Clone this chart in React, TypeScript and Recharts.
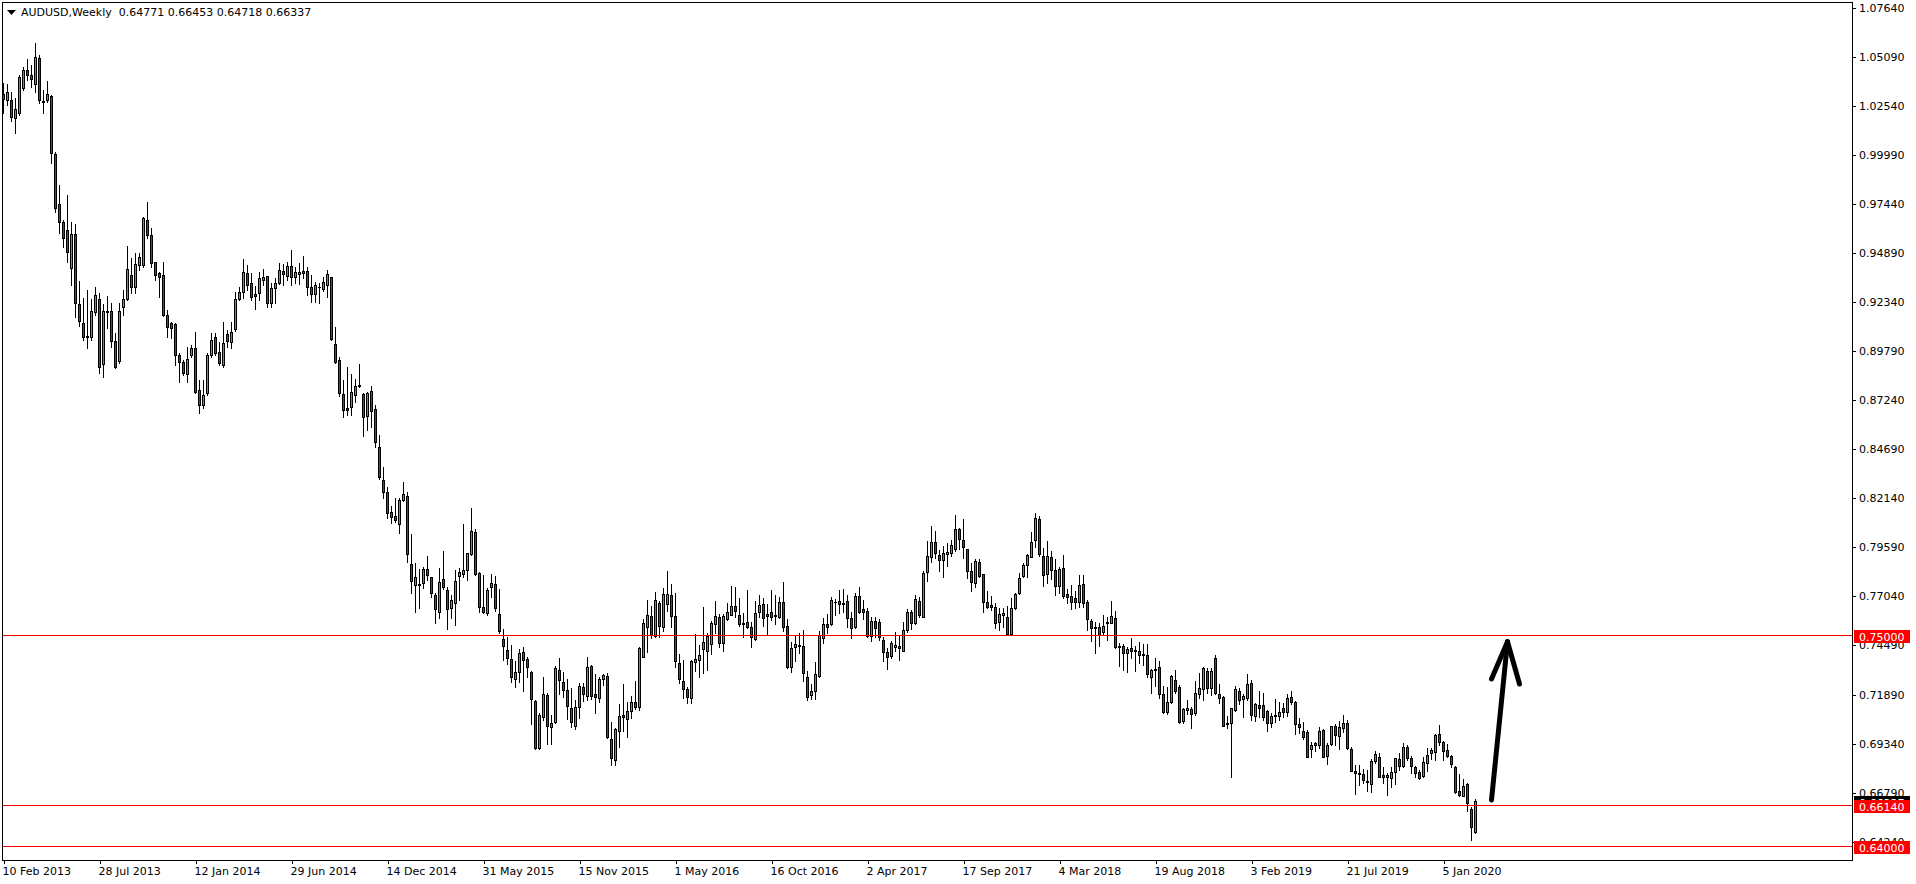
import React from 'react';
import { ComposedChart, Bar, XAxis, YAxis, ReferenceLine } from 'recharts';

const symbol = 'AUDUSD,Weekly';

// weekly candles, first one = week of 10 Feb 2013
const opens = [
  1.0315, 1.0285, 1.0285, 1.0190, 1.0216, 1.0349, 1.0441, 1.0415, 1.0368, 1.0502,
  1.0280, 1.0285, 1.0306, 1.0004, 0.9744, 0.9648, 0.9608, 0.9409, 0.9587, 0.9221,
  0.9126, 0.9057, 0.9053, 0.9180, 0.9249, 0.8911, 0.9187, 0.9187, 0.9031, 0.8928,
  0.9206, 0.9249, 0.9374, 0.9310, 0.9426, 0.9426, 0.9660, 0.9582, 0.9444, 0.9386,
  0.9374, 0.9166, 0.9126, 0.9119, 0.8958, 0.8919, 0.8857, 0.8956, 0.8994, 0.8775,
  0.8697, 0.8758, 0.8958, 0.9053, 0.8975, 0.8906, 0.9067, 0.9027, 0.9091, 0.9249,
  0.9284, 0.9386, 0.9334, 0.9273, 0.9279, 0.9350, 0.9367, 0.9230, 0.9305, 0.9331,
  0.9395, 0.9371, 0.9421, 0.9362, 0.9377, 0.9393, 0.9393, 0.9310, 0.9273, 0.9313,
  0.9301, 0.9322, 0.9364, 0.9013, 0.8930, 0.8753, 0.8680, 0.8685, 0.8751, 0.8796,
  0.8755, 0.8642, 0.8768, 0.8675, 0.8479, 0.8307, 0.8243, 0.8139, 0.8120, 0.8076,
  0.8204, 0.8222, 0.7870, 0.7759, 0.7765, 0.7769, 0.7842, 0.7800, 0.7708, 0.7618,
  0.7790, 0.7734, 0.7639, 0.7665, 0.7809, 0.7816, 0.7838, 0.7920, 0.8034, 0.7821,
  0.7644, 0.7616, 0.7748, 0.7765, 0.7608, 0.7479, 0.7422, 0.7375, 0.7269, 0.7306,
  0.7410, 0.7375, 0.7307, 0.7157, 0.6914, 0.7075, 0.7186, 0.7023, 0.7049, 0.7318,
  0.7254, 0.7212, 0.7118, 0.7028, 0.7124, 0.7228, 0.7184, 0.7339, 0.7191, 0.7170,
  0.7273, 0.7285, 0.6959, 0.6848, 0.6999, 0.7082, 0.7065, 0.7104, 0.7150, 0.7124,
  0.7387, 0.7543, 0.7599, 0.7497, 0.7665, 0.7543, 0.7660, 0.7707, 0.7599, 0.7353,
  0.7261, 0.7219, 0.7174, 0.7361, 0.7372, 0.7429, 0.7419, 0.7451, 0.7559, 0.7594,
  0.7457, 0.7585, 0.7606, 0.7653, 0.7602, 0.7557, 0.7566, 0.7542, 0.7477, 0.7618,
  0.7660, 0.7608, 0.7618, 0.7603, 0.7592, 0.7670, 0.7547, 0.7332, 0.7436, 0.7448,
  0.7443, 0.7283, 0.7188, 0.7207, 0.7288, 0.7483, 0.7555, 0.7555, 0.7671, 0.7677,
  0.7666, 0.7677, 0.7589, 0.7543, 0.7703, 0.7635, 0.7625, 0.7495, 0.7573, 0.7566,
  0.7474, 0.7412, 0.7391, 0.7439, 0.7443, 0.7419, 0.7526, 0.7618, 0.7561, 0.7675,
  0.7596, 0.7826, 0.7904, 0.7984, 0.7915, 0.7889, 0.7923, 0.7925, 0.7946, 0.8052,
  0.7993, 0.7946, 0.7833, 0.7769, 0.7880, 0.7816, 0.7672, 0.7656, 0.7644, 0.7566,
  0.7606, 0.7594, 0.7505, 0.7642, 0.7720, 0.7809, 0.7863, 0.7904, 0.7995, 0.8102,
  0.7910, 0.7816, 0.7904, 0.7837, 0.7757, 0.7847, 0.7712, 0.7701, 0.7691, 0.7674,
  0.7764, 0.7670, 0.7573, 0.7543, 0.7542, 0.7517, 0.7561, 0.7564, 0.7589, 0.7439,
  0.7443, 0.7405, 0.7432, 0.7422, 0.7417, 0.7403, 0.7398, 0.7280, 0.7316, 0.7334,
  0.7191, 0.7101, 0.7153, 0.7266, 0.7229, 0.7054, 0.7111, 0.7113, 0.7092, 0.7191,
  0.7217, 0.7313, 0.7226, 0.7379, 0.7191, 0.7177, 0.7042, 0.7040, 0.7110, 0.7209,
  0.7165, 0.7174, 0.7249, 0.7080, 0.7136, 0.7136, 0.7105, 0.7040, 0.7084, 0.7080,
  0.7118, 0.7101, 0.7177, 0.7153, 0.7035, 0.6999, 0.6993, 0.6905, 0.6929, 0.6929,
  0.7006, 0.6870, 0.6931, 0.7026, 0.6974, 0.7014, 0.7040, 0.6907, 0.6794, 0.6783,
  0.6775, 0.6742, 0.6723, 0.6842, 0.6863, 0.6771, 0.6759, 0.6754, 0.6789, 0.6853,
  0.6820, 0.6915, 0.6862, 0.6811, 0.6789, 0.6768, 0.6832, 0.6884, 0.6893, 0.6983,
  0.6941, 0.6901, 0.6870, 0.6815, 0.6688, 0.6664, 0.6724, 0.6593, 0.64771,
];

const highs = [
  1.0375, 1.0368, 1.0328, 1.0297, 1.0415, 1.0459, 1.0497, 1.0467, 1.0584, 1.0519,
  1.0337, 1.0384, 1.0311, 1.0016, 0.9843, 0.9660, 0.9791, 0.9652, 0.9638, 0.9343,
  0.9253, 0.9296, 0.9247, 0.9313, 0.9279, 0.9223, 0.9265, 0.9227, 0.9070, 0.9227,
  0.9296, 0.9525, 0.9461, 0.9487, 0.9487, 0.9678, 0.9756, 0.9617, 0.9444, 0.9391,
  0.9444, 0.9192, 0.9131, 0.9122, 0.8966, 0.8932, 0.9001, 0.9010, 0.9079, 0.8827,
  0.8827, 0.8966, 0.9070, 0.9070, 0.9027, 0.9131, 0.9088, 0.9131, 0.9287, 0.9313,
  0.9456, 0.9426, 0.9383, 0.9317, 0.9391, 0.9403, 0.9369, 0.9331, 0.9357, 0.9435,
  0.9430, 0.9443, 0.9504, 0.9417, 0.9435, 0.9473, 0.9417, 0.9374, 0.9339, 0.9334,
  0.9365, 0.9400, 0.9365, 0.9105, 0.8945, 0.8827, 0.8897, 0.8859, 0.8831, 0.8911,
  0.8758, 0.8767, 0.8796, 0.8697, 0.8541, 0.8376, 0.8272, 0.8172, 0.8213, 0.8215,
  0.8295, 0.8246, 0.8024, 0.7873, 0.7842, 0.7852, 0.7911, 0.7804, 0.7720, 0.7847,
  0.7937, 0.7752, 0.7708, 0.7838, 0.7847, 0.8078, 0.7929, 0.8163, 0.8050, 0.7830,
  0.7813, 0.7743, 0.7818, 0.7805, 0.7740, 0.7530, 0.7488, 0.7448, 0.7365, 0.7427,
  0.7439, 0.7387, 0.7313, 0.7162, 0.7096, 0.7280, 0.7196, 0.7084, 0.7340, 0.7379,
  0.7309, 0.7269, 0.7222, 0.7162, 0.7248, 0.7248, 0.7384, 0.7344, 0.7295, 0.7283,
  0.7297, 0.7301, 0.7045, 0.7018, 0.7141, 0.7243, 0.7150, 0.7184, 0.7261, 0.7439,
  0.7582, 0.7682, 0.7651, 0.7726, 0.7677, 0.7743, 0.7833, 0.7766, 0.7717, 0.7399,
  0.7370, 0.7231, 0.7370, 0.7505, 0.7448, 0.7648, 0.7509, 0.7573, 0.7677, 0.7609,
  0.7608, 0.7665, 0.7755, 0.7752, 0.7694, 0.7613, 0.7734, 0.7566, 0.7677, 0.7708,
  0.7694, 0.7661, 0.7734, 0.7707, 0.7700, 0.7776, 0.7583, 0.7465, 0.7500, 0.7509,
  0.7526, 0.7313, 0.7245, 0.7359, 0.7521, 0.7590, 0.7609, 0.7700, 0.7687, 0.7734,
  0.7739, 0.7708, 0.7621, 0.7717, 0.7750, 0.7682, 0.7639, 0.7594, 0.7592, 0.7582,
  0.7491, 0.7431, 0.7471, 0.7514, 0.7497, 0.7569, 0.7635, 0.7630, 0.7708, 0.7696,
  0.7835, 0.7989, 0.8067, 0.8041, 0.7942, 0.7963, 0.7977, 0.7995, 0.8125, 0.8059,
  0.8104, 0.7946, 0.7873, 0.7894, 0.7894, 0.7819, 0.7729, 0.7703, 0.7665, 0.7639,
  0.7642, 0.7653, 0.7694, 0.7717, 0.7821, 0.7873, 0.7922, 0.8038, 0.8137, 0.8119,
  0.7951, 0.7989, 0.7937, 0.7896, 0.7856, 0.7917, 0.7739, 0.7759, 0.7729, 0.7812,
  0.7812, 0.7682, 0.7582, 0.7569, 0.7564, 0.7604, 0.7592, 0.7677, 0.7625, 0.7457,
  0.7453, 0.7439, 0.7483, 0.7444, 0.7462, 0.7451, 0.7453, 0.7323, 0.7379, 0.7365,
  0.7234, 0.7231, 0.7292, 0.7318, 0.7238, 0.7118, 0.7162, 0.7127, 0.7261, 0.7304,
  0.7335, 0.7327, 0.7327, 0.7396, 0.7245, 0.7182, 0.7078, 0.7122, 0.7235, 0.7226,
  0.7191, 0.7297, 0.7266, 0.7144, 0.7209, 0.7200, 0.7110, 0.7092, 0.7165, 0.7150,
  0.7148, 0.7193, 0.7209, 0.7157, 0.7066, 0.7045, 0.7006, 0.6941, 0.6941, 0.7019,
  0.7009, 0.6940, 0.7026, 0.7035, 0.7052, 0.7084, 0.7058, 0.6915, 0.6823, 0.6822,
  0.6803, 0.6797, 0.6853, 0.6896, 0.6884, 0.6811, 0.6780, 0.6815, 0.6862, 0.6884,
  0.6936, 0.6928, 0.6872, 0.6820, 0.6797, 0.6867, 0.6914, 0.6910, 0.6985, 0.7032,
  0.6948, 0.6931, 0.6875, 0.6818, 0.6775, 0.6749, 0.6731, 0.6606, 0.66453,
];

const lows = [
  1.0219, 1.0259, 1.0178, 1.0112, 1.0207, 1.0337, 1.0389, 1.0351, 1.0328, 1.0271,
  1.0216, 1.0273, 0.9955, 0.9704, 0.9591, 0.9522, 0.9444, 0.9322, 0.9157, 0.9109,
  0.9036, 0.8992, 0.9036, 0.9166, 0.8866, 0.8845, 0.9096, 0.8998, 0.8888, 0.8914,
  0.9166, 0.9244, 0.9279, 0.9279, 0.9400, 0.9417, 0.9565, 0.9417, 0.9348, 0.9261,
  0.9161, 0.9053, 0.9044, 0.8906, 0.8819, 0.8854, 0.8819, 0.8949, 0.8762, 0.8657,
  0.8680, 0.8749, 0.8949, 0.8958, 0.8906, 0.8897, 0.9001, 0.8992, 0.9084, 0.9244,
  0.9253, 0.9296, 0.9244, 0.9199, 0.9244, 0.9322, 0.9206, 0.9206, 0.9227, 0.9327,
  0.9322, 0.9348, 0.9322, 0.9331, 0.9327, 0.9357, 0.9270, 0.9235, 0.9235, 0.9230,
  0.9292, 0.9258, 0.9036, 0.8918, 0.8744, 0.8637, 0.8644, 0.8647, 0.8715, 0.8793,
  0.8538, 0.8567, 0.8584, 0.8477, 0.8310, 0.8211, 0.8107, 0.8085, 0.8090, 0.8029,
  0.8199, 0.7878, 0.7717, 0.7621, 0.7642, 0.7743, 0.7786, 0.7700, 0.7561, 0.7590,
  0.7738, 0.7530, 0.7587, 0.7552, 0.7682, 0.7804, 0.7786, 0.7917, 0.7812, 0.7621,
  0.7616, 0.7604, 0.7700, 0.7625, 0.7509, 0.7370, 0.7347, 0.7257, 0.7231, 0.7257,
  0.7210, 0.7283, 0.7037, 0.6908, 0.6908, 0.7058, 0.6933, 0.6933, 0.7040, 0.7193,
  0.7179, 0.7063, 0.7023, 0.7011, 0.7066, 0.7158, 0.7162, 0.7167, 0.7096, 0.7153,
  0.7240, 0.6962, 0.6823, 0.6823, 0.6919, 0.7000, 0.6971, 0.7066, 0.7113, 0.7110,
  0.7387, 0.7413, 0.7486, 0.7491, 0.7488, 0.7521, 0.7627, 0.7543, 0.7335, 0.7252,
  0.7174, 0.7144, 0.7148, 0.7313, 0.7280, 0.7304, 0.7318, 0.7401, 0.7509, 0.7439,
  0.7417, 0.7578, 0.7602, 0.7595, 0.7549, 0.7488, 0.7535, 0.7439, 0.7474, 0.7592,
  0.7549, 0.7500, 0.7578, 0.7557, 0.7587, 0.7523, 0.7327, 0.7309, 0.7366, 0.7408,
  0.7262, 0.7162, 0.7165, 0.7165, 0.7283, 0.7457, 0.7509, 0.7552, 0.7602, 0.7613,
  0.7621, 0.7543, 0.7486, 0.7535, 0.7613, 0.7582, 0.7491, 0.7471, 0.7491, 0.7474,
  0.7366, 0.7325, 0.7382, 0.7419, 0.7370, 0.7419, 0.7517, 0.7533, 0.7557, 0.7596,
  0.7592, 0.7783, 0.7878, 0.7899, 0.7835, 0.7804, 0.7861, 0.7913, 0.7939, 0.7946,
  0.7903, 0.7798, 0.7729, 0.7748, 0.7804, 0.7621, 0.7639, 0.7630, 0.7535, 0.7526,
  0.7543, 0.7498, 0.7500, 0.7634, 0.7714, 0.7804, 0.7804, 0.7904, 0.7956, 0.7913,
  0.7755, 0.7769, 0.7790, 0.7708, 0.7717, 0.7691, 0.7668, 0.7637, 0.7639, 0.7648,
  0.7648, 0.7526, 0.7471, 0.7408, 0.7443, 0.7503, 0.7474, 0.7561, 0.7434, 0.7340,
  0.7318, 0.7309, 0.7379, 0.7314, 0.7353, 0.7344, 0.7280, 0.7200, 0.7236, 0.7174,
  0.7096, 0.7087, 0.7148, 0.7196, 0.7044, 0.7044, 0.7087, 0.7018, 0.7084, 0.7170,
  0.7162, 0.7200, 0.7188, 0.7193, 0.7148, 0.7026, 0.7014, 0.6759, 0.7105, 0.7139,
  0.7075, 0.7162, 0.7058, 0.7054, 0.7072, 0.7058, 0.7002, 0.7023, 0.7049, 0.7058,
  0.7075, 0.7079, 0.7141, 0.6985, 0.6988, 0.6959, 0.6863, 0.6863, 0.6898, 0.6910,
  0.6863, 0.6829, 0.6928, 0.6928, 0.6908, 0.6997, 0.6905, 0.6792, 0.6672, 0.6719,
  0.6731, 0.6690, 0.6685, 0.6836, 0.6759, 0.6731, 0.6667, 0.6711, 0.6723, 0.6797,
  0.6815, 0.6849, 0.6784, 0.6763, 0.6749, 0.6763, 0.6794, 0.6853, 0.6849, 0.6928,
  0.6849, 0.6863, 0.6815, 0.6679, 0.6662, 0.6662, 0.6586, 0.6433, 0.64718,
];

const closes = [
  1.0290, 1.0325, 1.0195, 1.0238, 1.0403, 1.0441, 1.0417, 1.0393, 1.0507, 1.0285,
  1.0273, 1.0315, 1.0007, 0.9721, 0.9648, 0.9565, 0.9496, 0.9587, 0.9230, 0.9136,
  0.9053, 0.9050, 0.9187, 0.9270, 0.8893, 0.9187, 0.9180, 0.9031, 0.8897, 0.9187,
  0.9249, 0.9404, 0.9310, 0.9431, 0.9466, 0.9673, 0.9582, 0.9435, 0.9374, 0.9365,
  0.9166, 0.9105, 0.9096, 0.8958, 0.8919, 0.8862, 0.8935, 0.8994, 0.8767, 0.8697,
  0.8749, 0.8958, 0.9036, 0.8966, 0.8914, 0.9018, 0.9032, 0.9079, 0.9247, 0.9284,
  0.9391, 0.9322, 0.9261, 0.9266, 0.9357, 0.9364, 0.9227, 0.9305, 0.9331, 0.9398,
  0.9381, 0.9421, 0.9365, 0.9388, 0.9390, 0.9386, 0.9310, 0.9273, 0.9322, 0.9310,
  0.9336, 0.9377, 0.9039, 0.8923, 0.8762, 0.8670, 0.8670, 0.8763, 0.8796, 0.8801,
  0.8633, 0.8760, 0.8664, 0.8506, 0.8324, 0.8246, 0.8137, 0.8116, 0.8097, 0.8203,
  0.8232, 0.7920, 0.7783, 0.7800, 0.7762, 0.7842, 0.7814, 0.7717, 0.7634, 0.7774,
  0.7748, 0.7634, 0.7682, 0.7781, 0.7828, 0.7838, 0.7925, 0.8041, 0.7816, 0.7644,
  0.7621, 0.7734, 0.7769, 0.7640, 0.7521, 0.7445, 0.7382, 0.7283, 0.7306, 0.7405,
  0.7370, 0.7332, 0.7169, 0.6914, 0.7082, 0.7191, 0.7028, 0.7040, 0.7327, 0.7266,
  0.7214, 0.7132, 0.7049, 0.7124, 0.7235, 0.7191, 0.7335, 0.7184, 0.7179, 0.7269,
  0.7290, 0.6971, 0.6858, 0.7009, 0.7077, 0.7071, 0.7104, 0.7150, 0.7127, 0.7431,
  0.7561, 0.7602, 0.7500, 0.7681, 0.7549, 0.7712, 0.7712, 0.7601, 0.7366, 0.7269,
  0.7219, 0.7179, 0.7366, 0.7375, 0.7394, 0.7462, 0.7497, 0.7561, 0.7599, 0.7460,
  0.7599, 0.7618, 0.7651, 0.7623, 0.7557, 0.7565, 0.7543, 0.7488, 0.7613, 0.7654,
  0.7587, 0.7601, 0.7596, 0.7598, 0.7670, 0.7543, 0.7335, 0.7431, 0.7452, 0.7443,
  0.7301, 0.7176, 0.7210, 0.7295, 0.7498, 0.7555, 0.7543, 0.7682, 0.7672, 0.7663,
  0.7663, 0.7590, 0.7538, 0.7703, 0.7621, 0.7621, 0.7497, 0.7573, 0.7538, 0.7488,
  0.7412, 0.7384, 0.7457, 0.7448, 0.7434, 0.7524, 0.7618, 0.7564, 0.7687, 0.7602,
  0.7821, 0.7910, 0.7984, 0.7925, 0.7889, 0.7925, 0.7932, 0.7967, 0.8050, 0.7998,
  0.7956, 0.7833, 0.7774, 0.7885, 0.7809, 0.7674, 0.7648, 0.7648, 0.7561, 0.7608,
  0.7616, 0.7505, 0.7639, 0.7712, 0.7795, 0.7863, 0.7917, 0.7982, 0.8107, 0.7920,
  0.7811, 0.7910, 0.7837, 0.7757, 0.7842, 0.7705, 0.7696, 0.7674, 0.7670, 0.7759,
  0.7665, 0.7582, 0.7538, 0.7538, 0.7500, 0.7547, 0.7568, 0.7599, 0.7439, 0.7445,
  0.7405, 0.7427, 0.7419, 0.7417, 0.7398, 0.7394, 0.7295, 0.7318, 0.7323, 0.7191,
  0.7101, 0.7150, 0.7287, 0.7210, 0.7049, 0.7113, 0.7118, 0.7087, 0.7196, 0.7222,
  0.7327, 0.7226, 0.7313, 0.7196, 0.7174, 0.7028, 0.7035, 0.7118, 0.7217, 0.7162,
  0.7183, 0.7243, 0.7084, 0.7139, 0.7122, 0.7075, 0.7040, 0.7080, 0.7077, 0.7098,
  0.7101, 0.7170, 0.7150, 0.7035, 0.7019, 0.6971, 0.6867, 0.6928, 0.6938, 0.7000,
  0.6867, 0.6928, 0.7026, 0.6980, 0.7023, 0.7040, 0.6910, 0.6794, 0.6780, 0.6775,
  0.6745, 0.6737, 0.6846, 0.6879, 0.6763, 0.6763, 0.6771, 0.6789, 0.6858, 0.6820,
  0.6915, 0.6858, 0.6820, 0.6784, 0.6754, 0.6841, 0.6875, 0.6901, 0.6980, 0.6945,
  0.6898, 0.6870, 0.6827, 0.6685, 0.6669, 0.6714, 0.6627, 0.6502, 0.66337,
];

// one date label every 24 weeks
const dateLabels = [
  '10 Feb 2013', '28 Jul 2013', '12 Jan 2014', '29 Jun 2014', '14 Dec 2014', '31 May 2015',
  '15 Nov 2015', '1 May 2016', '16 Oct 2016', '2 Apr 2017', '17 Sep 2017', '4 Mar 2018',
  '19 Aug 2018', '3 Feb 2019', '21 Jul 2019', '5 Jan 2020',
];
const LABEL_STEP = 24;

const priceTicks = [
  1.0764, 1.0509, 1.0254, 0.9999, 0.9744, 0.9489, 0.9234, 0.8979, 0.8724,
  0.8469, 0.8214, 0.7959, 0.7704, 0.7449, 0.7189, 0.6934, 0.6679, 0.6424,
];

const levels = [0.75, 0.6614, 0.64];

// hand drawn arrow (week index, price)
const arrowShaft = [{ x: 372, y: 0.6641 }, { x: 376, y: 0.7465 }];
const arrowLeft = [{ x: 372, y: 0.7271 }, { x: 376, y: 0.7465 }];
const arrowRight = [{ x: 379, y: 0.7245 }, { x: 376, y: 0.7465 }];

const SLOTS = 462; // visible week slots incl. the empty shift on the right
const GREEN = '#3CB43C';
const RED = '#DC1010';
const FONT = '"DejaVu Sans", Verdana, sans-serif';

const rows = Array.from({ length: SLOTS }, (_, i) =>
  i < opens.length
    ? { idx: i, open: opens[i], high: highs[i], low: lows[i], close: closes[i], range: [lows[i], highs[i]] }
    : { idx: i }
);

const last = opens.length - 1;
const bid = closes[last];
const header = `${symbol}  ${[opens[last], highs[last], lows[last], closes[last]].map((v) => v.toFixed(5)).join(' ')}`;

// tags come after the plain ticks so they are painted on top of them
const axisTicks = [...priceTicks, bid, ...levels];

const Candle = (props: any) => {
  const { x, y, width, height, payload } = props;
  if (!payload || payload.open == null || height == null || isNaN(y)) return null;
  const { open, high, low, close } = payload;
  const yHi = Math.min(y, y + height);
  const yLo = Math.max(y, y + height);
  const py = (p: number) => (high === low ? yHi : yHi + ((high - p) / (high - low)) * (yLo - yHi));
  const left = Math.floor(x + width / 2) - 1;
  const top = Math.round(py(Math.max(open, close)));
  const bot = Math.round(py(Math.min(open, close)));
  const hi = Math.round(yHi);
  const lo = Math.round(yLo);
  return (
    <g shapeRendering="crispEdges">
      <rect x={left + 1} y={hi} width={1} height={lo - hi + 1} fill="#000" />
      <rect x={left} y={top} width={3} height={bot - top + 1} fill="#000" />
      {bot - top > 1 && (
        <rect x={left + 1} y={top + 1} width={1} height={bot - top - 1} fill={close >= open ? GREEN : RED} />
      )}
    </g>
  );
};

const DateTick = ({ x, y, payload }: any) => (
  <g>
    <rect x={Math.round(x)} y={y} width={1} height={4} fill="#000" shapeRendering="crispEdges" />
    <text x={x - 1} y={y + 15} fontSize={11} fontFamily={FONT} fill="#000">
      {dateLabels[Math.round(payload.value / LABEL_STEP)]}
    </text>
  </g>
);

const PriceTick = ({ x, y, payload }: any) => {
  const v = payload.value;
  const isLevel = levels.includes(v);
  if (isLevel || v === bid) {
    return (
      <g>
        <rect x={x + 2} y={Math.round(y) - 5} width={56} height={13} fill={isLevel ? '#FF0000' : '#000'} shapeRendering="crispEdges" />
        <text x={x + 7} y={y + 5.5} fontSize={11} fontFamily={FONT} fill="#fff">
          {v.toFixed(5)}
        </text>
      </g>
    );
  }
  return (
    <g>
      <rect x={x} y={Math.round(y)} width={4} height={1} fill="#000" shapeRendering="crispEdges" />
      <text x={x + 7} y={y + 4} fontSize={11} fontFamily={FONT} fill="#000">
        {v.toFixed(5)}
      </text>
    </g>
  );
};

const App = () => {
  return (
    <div style={{ position: 'absolute', left: 0, top: 0, width: 1916, height: 884, background: '#fff' }}>
      <ComposedChart width={1916} height={884} data={rows} margin={{ top: 2, right: 0, bottom: 0, left: 1.5 }}>
        <XAxis
          dataKey="idx"
          type="category"
          ticks={dateLabels.map((_, k) => k * LABEL_STEP)}
          interval={0}
          height={24}
          axisLine={false}
          tickLine={false}
          tickSize={0}
          tickMargin={0}
          padding={{ left: 0, right: 2.5 }}
          tick={(p: any) => <DateTick {...p} />}
        />
        <YAxis
          orientation="right"
          type="number"
          width={64}
          domain={[0.632881, 1.079523]}
          allowDataOverflow
          ticks={axisTicks}
          interval={0}
          axisLine={false}
          tickLine={false}
          tickSize={0}
          tickMargin={0}
          tick={(p: any) => <PriceTick {...p} />}
        />
        <Bar dataKey="range" shape={(p: any) => <Candle {...p} />} isAnimationActive={false} />
        {levels.map((lv) => (
          <ReferenceLine key={lv} y={lv} stroke="#FF0000" strokeWidth={1} shapeRendering="crispEdges" />
        ))}
        {[arrowShaft, arrowLeft, arrowRight].map((seg, k) => (
          <ReferenceLine
            key={'arrow' + k}
            segment={seg}
            stroke="#000"
            strokeWidth={5}
            strokeLinecap="round"
            ifOverflow="visible"
          />
        ))}
      </ComposedChart>
      <div
        style={{
          position: 'absolute',
          left: 2,
          top: 2,
          width: 1851,
          height: 859,
          border: '1px solid #000',
          boxSizing: 'border-box',
          pointerEvents: 'none',
        }}
      />
      <svg style={{ position: 'absolute', left: 7, top: 10 }} width={9} height={6}>
        <polygon points="0,0 9,0 4.5,5" fill="#000" />
      </svg>
      <div
        style={{
          position: 'absolute',
          left: 21,
          top: 6,
          fontFamily: FONT,
          fontSize: 11,
          lineHeight: '13px',
          whiteSpace: 'pre',
          color: '#000',
        }}
      >
        {header}
      </div>
    </div>
  );
};

export default App;
